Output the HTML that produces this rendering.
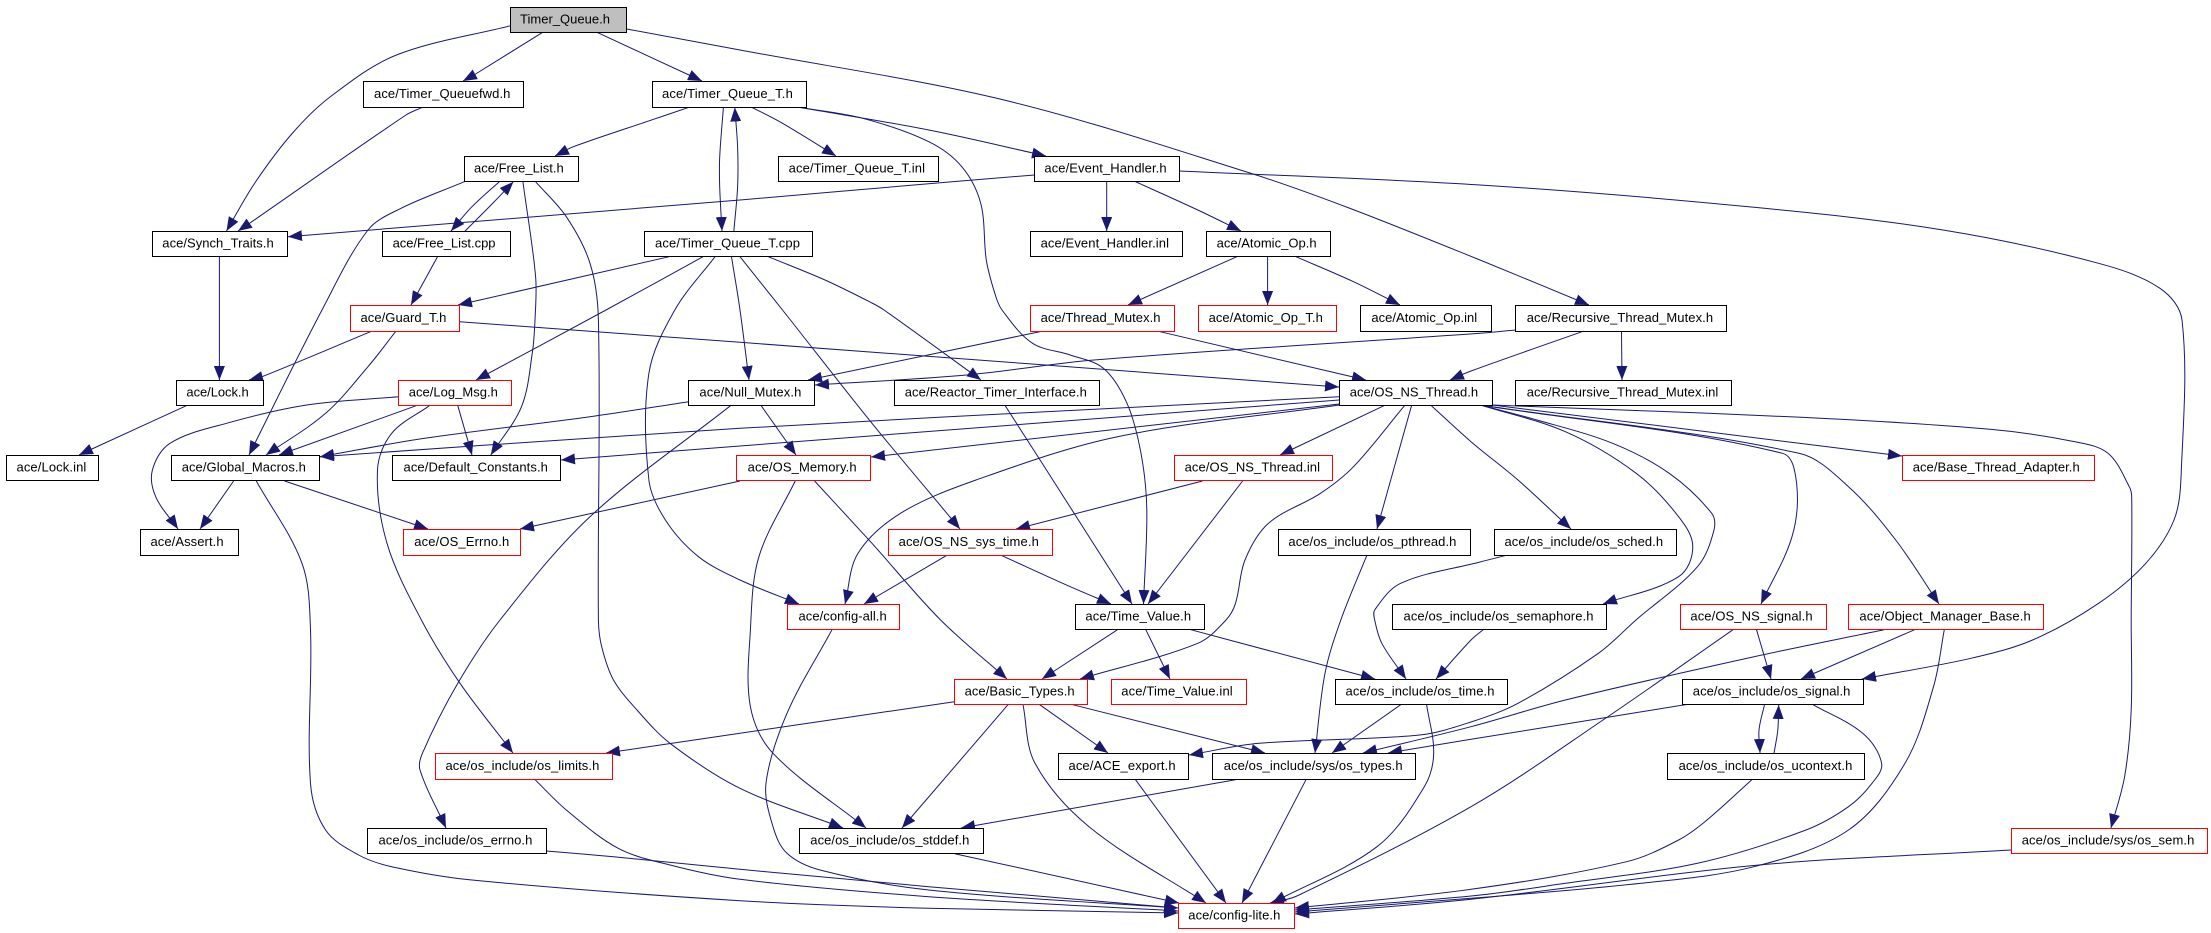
<!DOCTYPE html>
<html><head><meta charset="utf-8"><title>Timer_Queue.h include graph</title>
<style>
html,body{margin:0;padding:0;background:#fff;width:2211px;height:933px;overflow:hidden}
svg{display:block}
text{font-family:"Liberation Sans",sans-serif;font-size:13px;fill:#000}
polyline,#e path{fill:none;stroke:#191970;stroke-width:1;stroke-linejoin:round;marker-end:url(#a)}
rect{fill:#fff;stroke:#000;stroke-width:1}
rect.r{stroke:#f00}
rect.g{fill:#bfbfbf}
</style></head><body>
<svg xmlns="http://www.w3.org/2000/svg" width="2211" height="933" viewBox="0 0 2211 933">
<defs><marker id="a" markerUnits="userSpaceOnUse" markerWidth="15" markerHeight="11" refX="14" refY="5.5" orient="auto"><path d="M0,0L14,5.5L0,11z" fill="#191970"/></marker></defs>
<g id="e">
<polyline points="510.6,25.7 396.4,55 330,97 292.6,133 254.8,183 226.5,231"/>
<polyline points="542.7,32.3 474,75 463,81"/>
<polyline points="597,32.3 689,75 702,81"/>
<polyline points="626.7,29 740,50 1004,100 1250,173 1349,208 1480,260 1589,305"/>
<polyline points="422.4,107.3 406,115 250,223 238,231"/>
<polyline points="689,107.3 646.5,121.7 573.4,146.7 555,156"/>
<polyline points="723.4,107.3 719.7,157 719.7,187 722,231"/>
<polyline points="733.8,231.3 737.6,187 737.6,147 734.8,107.5"/>
<polyline points="751.8,107.3 782.5,123.3 836,156"/>
<polyline points="799,107.3 928.8,130 1046,156"/>
<polyline points="799,107.3 862.7,118.3 928.8,141.7 961.8,166.7 980.7,203.3 986.3,260 994.8,293.3 1002,310 1032.6,343.3 1070.3,355 1103.4,368.3 1127,403.3 1141,453.3 1146.8,510 1143.5,604"/>
<polyline points="464.4,181.7 401,208.3 368,230 322,310 249,455"/>
<polyline points="499.3,181.7 472,206.7 451,231"/>
<polyline points="464.8,231.3 493,203 513.4,181.7"/>
<polyline points="522.9,181.7 535.6,276.7 535,320 532.3,353 521.5,406.7 490.8,455"/>
<polyline points="535.6,181.7 566.3,216.7 590,263.3 598.4,320 598.4,620 601.7,646.7 613.5,680 637,710 670,743.3 740,788.3 843,828"/>
<polyline points="1034.5,175 952,181.7 740,200 288,236.7"/>
<polyline points="1106.7,181.7 1106.7,231"/>
<polyline points="1135.5,181.7 1197.8,210 1241,231"/>
<polyline points="1179.4,171 1480,185 1754,207.3 1943,230 2098.6,263.3 2160,288.3 2182,320 2181.2,473.3 2174,520 2145.8,563.3 2098.6,603.3 2032.6,640 1971,658.3 1862,679"/>
<polyline points="1236.9,256.7 1128,305"/>
<polyline points="1267.6,256.7 1267.6,305"/>
<polyline points="1295.9,256.7 1353.5,281.7 1400,305"/>
<polyline points="219.4,256.7 219.4,380"/>
<polyline points="437.5,256.7 411,305"/>
<polyline points="669.2,256.7 458,305"/>
<polyline points="703,256.7 606,310 476,380"/>
<polyline points="715,256.7 674.8,310 648.9,373.3 648.9,480 665.4,520 698.5,556.7 740,580 799,604"/>
<polyline points="731.5,256.7 740,310 749,380"/>
<polyline points="740,256.7 782.5,310 872,423.3 960,529"/>
<polyline points="768.3,256.7 825,280 872,303 884,310 981,380"/>
<polyline points="370.5,331.7 262,376.7 249,380"/>
<polyline points="395.5,331.7 368,366.7 325.6,413.3 266,455"/>
<polyline points="459.7,321.7 740,342.3 1339,387"/>
<polyline points="186.4,405.7 89.7,450 79,455"/>
<polyline points="398.3,396.7 306.7,405 226.5,423.3 170,443.3 152.4,470 155.7,496.7 178,529"/>
<polyline points="416.2,405.7 279,455"/>
<polyline points="457.8,405.7 472,455"/>
<polyline points="429.4,405.7 391.7,433.3 377.5,470 387,543.3 421.4,620 460,683.3 513,753"/>
<polyline points="688.5,401.7 590,416.7 424.7,438.3 320,456.7"/>
<polyline points="761.2,405.7 796,455"/>
<polyline points="730.5,405.7 590,516.7 500,620 457.8,683.3 422.4,753.3 420,770 446,828"/>
<polyline points="1515.4,330 1480,333.3 1094,360 966.5,375 815,385"/>
<polyline points="1582,331.7 1471,371 1450,380"/>
<polyline points="1621.5,331.7 1622,380"/>
<polyline points="1039.7,331.7 808,380"/>
<polyline points="1160,331.7 1366,380"/>
<polyline points="1005.2,405.7 1042,463 1132,604"/>
<polyline points="1339.3,396.7 740,428.3 320,456.7"/>
<polyline points="1339.3,400 740,446 561,460"/>
<polyline points="1339.3,404 871,457"/>
<polyline points="1339.3,405 1117.5,436.7 976,480 900.5,513.3 858,553.3 845,604"/>
<polyline points="1384,405.7 1280,455"/>
<polyline points="1411.5,405.7 1377,529"/>
<polyline points="1404.5,405.7 1353.5,466.7 1320.5,493.3 1268.5,523.3 1245,560 1235.5,603.3 1226,620 1197.8,643.3 1080,679"/>
<polyline points="1431.4,405.7 1471,441.7 1518,480 1571,529"/>
<polyline points="1480.4,405 1565.4,431.7 1636.2,473.3 1678.6,516.7 1692.8,546.7 1678.6,576.7 1603,604"/>
<polyline points="1480.4,405 1537,420 1612.6,443.3 1669.2,473.3 1711.7,513.3 1714,530 1697.5,566.7 1636,620 1598.4,653.3 1518,703.3 1471,722 1419.6,735 1259,743.3 1189,755"/>
<polyline points="1492.2,405 1902,456"/>
<polyline points="1480.4,405 1782.5,453.3 1796.6,483.3 1792,536.7 1761,604"/>
<polyline points="1480.4,405 1799,453.3 1848.5,486.7 1895.7,540 1939,604"/>
<polyline points="1492.2,405 1801.3,417.3 1990,429.3 2075,441.7 2108,453.3 2129.3,486.7 2131.7,496.7 2131.2,620 2131.2,710 2124.6,776.7 2111,828"/>
<polyline points="740,481 520,529"/>
<polyline points="814.6,481 872,543.3 940.6,620 1007,679"/>
<polyline points="795.2,481 758.9,556.7 750.4,630 750.4,706.7 773,753.3 866,828"/>
<polyline points="233.6,481 200,529"/>
<polyline points="284.6,481 428,529"/>
<polyline points="256.3,481 302,563.3 310.5,630 310.5,783.3 325.6,830 358.7,855 391.7,866.7 472,880 740,900.7 928.8,908.3 1178,913"/>
<polyline points="1202.5,481 1016,529"/>
<polyline points="1242.6,481 1148,604"/>
<polyline points="946.2,555.7 864,604"/>
<polyline points="1001.9,555.7 1070.3,586.7 1111,604"/>
<polyline points="1366.7,555.7 1340.8,620 1325,673.3 1315,753"/>
<polyline points="1505,555.7 1480,562 1400.7,583.3 1374.7,610 1374.7,620 1381.8,643.3 1406,679"/>
<polyline points="1483.7,629.3 1471,640 1436,679"/>
<polyline points="1117.5,629.7 1042,679"/>
<polyline points="1145.8,629.7 1170,679"/>
<polyline points="1190.7,629.7 1375,679"/>
<polyline points="832,629.7 787,713.3 766,783.3 773,826.7 787,853.3 820,870 928.8,890 1178,908"/>
<polyline points="954.3,701.7 740,733.3 606,753"/>
<polyline points="1008,704.7 902,828"/>
<polyline points="1023,704.7 1035,763.3 1089,826.7 1206,903"/>
<polyline points="1039.7,704.7 1108,753"/>
<polyline points="1072.7,704.7 1265,753"/>
<polyline points="1400.7,704.7 1332,753"/>
<polyline points="1426.6,704.7 1433.7,753.3 1424.3,786.7 1377,846.7 1272,903"/>
<polyline points="1135.5,779.7 1226,903"/>
<polyline points="1235.5,779.7 961,828"/>
<polyline points="1306,779.7 1242,903"/>
<polyline points="954.7,853.7 1179,903"/>
<polyline points="1756.5,629.7 1771,679"/>
<polyline points="1733,629.7 1603,720 1471,806.7 1296.9,896 1270,903"/>
<polyline points="1884,629.7 1754,656.7 1565.4,700 1471,726.7 1363,753"/>
<polyline points="1914.6,629.7 1801,679"/>
<polyline points="1944.3,629.7 1933.5,686.7 1905,763.3 1848.5,830 1754,866.7 1641,883.3 1471,898.3 1295,912"/>
<polyline points="1688,704.3 1603,718 1471,739.3 1388,753"/>
<polyline points="1764.5,704.7 1759,730 1760,753"/>
<polyline points="1774,753.3 1777.8,730 1778.7,705"/>
<polyline points="1813,704.7 1862.7,733.3 1881.6,763.3 1872,783.3 1848.5,806.7 1806,830 1697.5,863.3 1565.4,883.3 1471,896 1295,910"/>
<polyline points="1751.8,779.7 1707,820 1678.6,840 1626.7,861.7 1471,889.3 1295,908"/>
<polyline points="2011.3,850 1759,865 1471,899.3 1295,914"/>
<polyline points="546.5,851 613.5,856.7 740,869.3 928.8,886.7 1178,908"/>
<polyline points="534.7,779.3 566.3,810 618.2,848.3 670,865 740,879.3 928.8,896.7 1178,911"/>
</g>
<g>
<rect class="g" x="510.5" y="7.5" width="116" height="25"/><text x="520" y="23.5" textLength="90">Timer_Queue.h</text>
<rect x="363.5" y="81.5" width="160" height="26"/><text x="374" y="98" textLength="136.4">ace/Timer_Queuefwd.h</text>
<rect x="652.5" y="81.5" width="154" height="26"/><text x="662" y="98" textLength="130.8">ace/Timer_Queue_T.h</text>
<rect x="464.5" y="156.5" width="114" height="25"/><text x="474" y="172.5" textLength="89.7">ace/Free_List.h</text>
<rect x="778.5" y="156.5" width="160" height="25"/><text x="788.6" y="172.5" textLength="136.4">ace/Timer_Queue_T.inl</text>
<rect x="1034.5" y="156.5" width="145" height="25"/><text x="1044.4" y="172.5" textLength="122.2">ace/Event_Handler.h</text>
<rect x="152.5" y="231.5" width="135" height="25"/><text x="162.3" y="247.5" textLength="111.4">ace/Synch_Traits.h</text>
<rect x="382.5" y="231.5" width="128" height="25"/><text x="392.6" y="247.5" textLength="102.9">ace/Free_List.cpp</text>
<rect x="644.5" y="231.5" width="168" height="25"/><text x="655" y="247.5" textLength="145">ace/Timer_Queue_T.cpp</text>
<rect x="1030.5" y="231.5" width="152" height="25"/><text x="1040.6" y="247.5" textLength="128.4">ace/Event_Handler.inl</text>
<rect x="1206.5" y="231.5" width="124" height="25"/><text x="1216.6" y="247.5" textLength="100">ace/Atomic_Op.h</text>
<rect class="r" x="350.5" y="305.5" width="109" height="26"/><text x="360.5" y="322" textLength="85.9">ace/Guard_T.h</text>
<rect class="r" x="1030.5" y="305.5" width="144" height="26"/><text x="1040.6" y="322" textLength="119.9">ace/Thread_Mutex.h</text>
<rect class="r" x="1198.5" y="305.5" width="138" height="26"/><text x="1208.6" y="322" textLength="114.2">ace/Atomic_Op_T.h</text>
<rect x="1360.5" y="305.5" width="131" height="26"/><text x="1371.4" y="322" textLength="105.7">ace/Atomic_Op.inl</text>
<rect x="1515.5" y="305.5" width="211" height="26"/><text x="1526.7" y="322" textLength="186.4">ace/Recursive_Thread_Mutex.h</text>
<rect x="176.5" y="380.5" width="87" height="25"/><text x="186.4" y="396.5" textLength="62.3">ace/Lock.h</text>
<rect class="r" x="398.5" y="380.5" width="113" height="25"/><text x="408.7" y="396.5" textLength="89.2">ace/Log_Msg.h</text>
<rect x="688.5" y="380.5" width="126" height="25"/><text x="699.4" y="396.5" textLength="101.9">ace/Null_Mutex.h</text>
<rect x="894.5" y="380.5" width="205" height="25"/><text x="904.7" y="396.5" textLength="182.2">ace/Reactor_Timer_Interface.h</text>
<rect x="1339.5" y="380.5" width="153" height="25"/><text x="1349.7" y="396.5" textLength="128.4">ace/OS_NS_Thread.h</text>
<rect x="1515.5" y="380.5" width="216" height="25"/><text x="1526.7" y="396.5" textLength="191.6">ace/Recursive_Thread_Mutex.inl</text>
<rect x="6.5" y="455.5" width="92" height="25"/><text x="16.5" y="471.5" textLength="69.8">ace/Lock.inl</text>
<rect x="171.5" y="455.5" width="148" height="25"/><text x="181.7" y="471.5" textLength="124.1">ace/Global_Macros.h</text>
<rect x="392.5" y="455.5" width="168" height="25"/><text x="403.5" y="471.5" textLength="144.4">ace/Default_Constants.h</text>
<rect class="r" x="736.5" y="455.5" width="134" height="25"/><text x="747.6" y="471.5" textLength="109">ace/OS_Memory.h</text>
<rect class="r" x="1174.5" y="455.5" width="158" height="25"/><text x="1184.6" y="471.5" textLength="135.4">ace/OS_NS_Thread.inl</text>
<rect class="r" x="1902.5" y="455.5" width="192" height="25"/><text x="1912.7" y="471.5" textLength="167">ace/Base_Thread_Adapter.h</text>
<rect x="140.5" y="529.5" width="98" height="26"/><text x="150.5" y="546" textLength="73.1">ace/Assert.h</text>
<rect class="r" x="403.5" y="529.5" width="117" height="26"/><text x="414.3" y="546" textLength="94.9">ace/OS_Errno.h</text>
<rect class="r" x="888.5" y="529.5" width="164" height="26"/><text x="898.6" y="546" textLength="140.2">ace/OS_NS_sys_time.h</text>
<rect x="1278.5" y="529.5" width="192" height="26"/><text x="1288.4" y="546" textLength="168">ace/os_include/os_pthread.h</text>
<rect x="1494.5" y="529.5" width="182" height="26"/><text x="1504.5" y="546" textLength="158.6">ace/os_include/os_sched.h</text>
<rect class="r" x="787.5" y="604.5" width="112" height="25"/><text x="798.5" y="620.5" textLength="88.2">ace/config-all.h</text>
<rect x="1075.5" y="604.5" width="129" height="25"/><text x="1085.4" y="620.5" textLength="105.7">ace/Time_Value.h</text>
<rect x="1392.5" y="604.5" width="214" height="25"/><text x="1403.5" y="620.5" textLength="190">ace/os_include/os_semaphore.h</text>
<rect class="r" x="1680.5" y="604.5" width="146" height="25"/><text x="1690.4" y="620.5" textLength="122.2">ace/OS_NS_signal.h</text>
<rect class="r" x="1848.5" y="604.5" width="195" height="25"/><text x="1859.4" y="620.5" textLength="171.3">ace/Object_Manager_Base.h</text>
<rect class="r" x="954.5" y="679.5" width="133" height="25"/><text x="964.6" y="695.5" textLength="110">ace/Basic_Types.h</text>
<rect class="r" x="1111.5" y="679.5" width="135" height="25"/><text x="1121.3" y="695.5" textLength="111.4">ace/Time_Value.inl</text>
<rect x="1335.5" y="679.5" width="172" height="25"/><text x="1345.5" y="695.5" textLength="149">ace/os_include/os_time.h</text>
<rect x="1682.5" y="679.5" width="181" height="25"/><text x="1692.8" y="695.5" textLength="157.6">ace/os_include/os_signal.h</text>
<rect class="r" x="435.5" y="753.5" width="177" height="26"/><text x="445.5" y="770" textLength="153.8">ace/os_include/os_limits.h</text>
<rect x="1058.5" y="753.5" width="130" height="26"/><text x="1068.5" y="770" textLength="107.1">ace/ACE_export.h</text>
<rect x="1212.5" y="753.5" width="203" height="26"/><text x="1223.7" y="770" textLength="178.9">ace/os_include/sys/os_types.h</text>
<rect x="1667.5" y="753.5" width="197" height="26"/><text x="1678.6" y="770" textLength="173.7">ace/os_include/os_ucontext.h</text>
<rect x="367.5" y="828.5" width="179" height="25"/><text x="378.5" y="844.5" textLength="153.8">ace/os_include/os_errno.h</text>
<rect x="799.5" y="828.5" width="184" height="25"/><text x="810.3" y="844.5" textLength="159">ace/os_include/os_stddef.h</text>
<rect class="r" x="2011.5" y="828.5" width="196" height="25"/><text x="2021.7" y="844.5" textLength="172.7">ace/os_include/sys/os_sem.h</text>
<rect class="r" x="1178.5" y="903.5" width="116" height="25"/><text x="1188.3" y="919.5" textLength="92">ace/config-lite.h</text>
</g>
</svg>
<script>
document.querySelectorAll('#e polyline').forEach(function(l){
  var p=l.getAttribute('points').trim().split(/\s+/).map(function(s){return s.split(',').map(Number)});
  if(p.length<3)return;
  function u(a,b){var x=b[0]-a[0],y=b[1]-a[1],n=Math.hypot(x,y)||1;return[x/n,y/n]}
  var t=p.map(function(q,i){return i==0?u(p[0],p[1]):i==p.length-1?u(p[i-1],p[i]):u(p[i-1],p[i+1])});
  var d='M'+p[0][0]+','+p[0][1];
  for(var i=0;i<p.length-1;i++){
    var s=Math.hypot(p[i+1][0]-p[i][0],p[i+1][1]-p[i][1])/3;
    d+='C'+(p[i][0]+t[i][0]*s).toFixed(1)+','+(p[i][1]+t[i][1]*s).toFixed(1)+' '+(p[i+1][0]-t[i+1][0]*s).toFixed(1)+','+(p[i+1][1]-t[i+1][1]*s).toFixed(1)+' '+p[i+1][0]+','+p[i+1][1];
  }
  var e=document.createElementNS('http://www.w3.org/2000/svg','path');
  e.setAttribute('d',d);l.parentNode.replaceChild(e,l);
});
</script>
</body></html>
